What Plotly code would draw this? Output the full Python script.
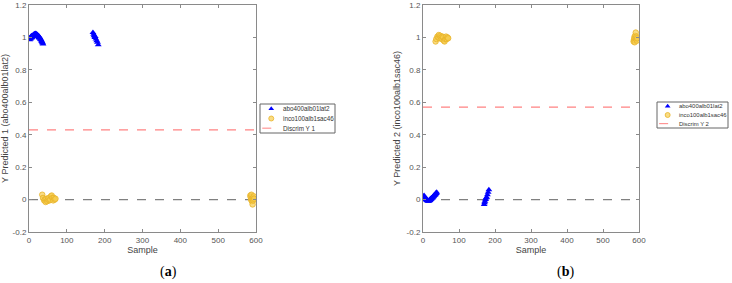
import plotly.graph_objects as go

# ---------------- data ----------------
x_range = [0, 600]
y_range = [-0.2, 1.2]
y_ticks = [-0.2, 0, 0.2, 0.4, 0.6, 0.8, 1, 1.2]
y_ticktext = ["-0.2", "0", "0.2", "0.4", "0.6", "0.8", "1", "1.2"]
x_ticks = [0, 100, 200, 300, 400, 500, 600]

# panel (a)
a_blue_x = [2, 3, 4, 5, 6, 7, 8, 9, 10, 11, 12, 13, 14, 15, 16, 17, 18, 19, 20, 21,
            22, 23, 24, 25, 26, 27, 28, 29, 30, 31, 32, 33, 34, 35, 36, 37,
            169, 171, 172, 174, 175, 177, 179, 181, 183]
a_blue_y = [0.985, 1.0, 0.99, 1.005, 0.995, 1.01, 1.0, 1.012, 1.005, 1.015, 1.01, 1.02,
            1.012, 1.022, 1.015, 1.025, 1.018, 1.022, 1.015, 1.02, 1.012, 1.015, 1.005,
            1.01, 1.0, 1.005, 0.995, 0.998, 0.99, 0.988, 0.985, 0.98, 0.975, 0.97, 0.965, 0.96,
            1.03, 1.02, 1.01, 1.0, 1.005, 0.99, 0.98, 0.97, 0.955]
a_yel_x = [35, 37, 40, 42, 44, 46, 48, 50, 52, 54, 56, 58, 60, 62, 64, 66, 68, 70,
           585, 586, 587, 588, 589, 590, 591, 592, 593, 594, 595]
a_yel_y = [0.03, 0.01, -0.005, 0.0, -0.015, 0.005, -0.01, 0.0, 0.01, -0.005, 0.0, 0.02,
           0.025, 0.01, -0.005, 0.01, 0.0, 0.005,
           0.025, 0.015, 0.0, 0.03, -0.01, 0.005, -0.03, 0.01, -0.005, 0.02, 0.005]
a_discrim = 0.43

# panel (b)
b_blue_x = [2, 3, 4, 5, 6, 7, 8, 9, 10, 11, 12, 13, 14, 15, 16, 17, 18, 19, 20, 21,
            22, 23, 24, 25, 26, 27, 28, 29, 30, 31, 32, 33, 34, 35, 36, 37, 38,
            170, 171, 172, 174, 175, 177, 179, 181, 183]
b_blue_y = [0.02, 0.025, 0.01, 0.015, 0.005, 0.01, 0.0, 0.005, -0.005, 0.0, -0.008, -0.005,
            -0.01, -0.005, -0.01, -0.005, -0.008, 0.0, -0.005, 0.005, 0.0, 0.01, 0.005, 0.012,
            0.01, 0.018, 0.015, 0.022, 0.02, 0.028, 0.025, 0.032, 0.03, 0.035, 0.04, 0.038, 0.045,
            -0.03, -0.02, -0.01, 0.0, 0.01, 0.015, 0.03, 0.045, 0.06]
b_yel_x = [35, 37, 40, 42, 44, 46, 48, 50, 52, 54, 56, 58, 60, 62, 64, 66, 68, 70,
           585, 586, 587, 588, 589, 590, 591, 592, 593, 594, 595]
b_yel_y = [0.975, 0.99, 1.005, 1.0, 1.015, 0.995, 1.01, 1.0, 0.99, 1.005, 1.0, 0.98,
           0.975, 0.99, 1.005, 0.99, 1.0, 0.995,
           0.975, 0.985, 1.0, 0.97, 1.01, 0.995, 1.03, 0.99, 1.005, 0.98, 0.995]
b_discrim = 0.57

name_blue = "abo400alb01lat2"
name_yel = "inco100alb1sac46"
names_discrim = ["Discrim Y 1", "Discrim Y 2"]
panel_labels = ["a", "b"]
y_titles = ["Y Predicted 1 (abo400alb01lat2)", "Y Predicted 2 (inco100alb1sac46)"]

# ---------------- styles ----------------
W, H = 732, 283
BLUE = "rgb(0,0,255)"
YEL_FILL = "rgba(247,205,80,0.7)"
YEL_EDGE = "rgb(232,180,40)"
RED = "rgb(255,130,130)"
GRAY = "rgb(128,128,128)"
FONT = "Liberation Sans, Arial, sans-serif"
SERIF = "Liberation Serif, Times New Roman, serif"

blue_marker = dict(symbol="triangle-up", size=6, color=BLUE, line=dict(width=0))
yel_marker = dict(symbol="circle", size=5.5, color=YEL_FILL, line=dict(color=YEL_EDGE, width=0.8))

fig = go.Figure()


def add_panel(xa, ya, bx, by, yx, yy, disc):
    fig.add_trace(go.Scatter(x=x_range, y=[0, 0], mode="lines", xaxis=xa, yaxis=ya,
                             line=dict(color=GRAY, dash="dash", width=1.2),
                             showlegend=False, hoverinfo="skip"))
    fig.add_trace(go.Scatter(x=x_range, y=[disc, disc], mode="lines", xaxis=xa, yaxis=ya,
                             showlegend=False, line=dict(color=RED, dash="dash", width=1.2)))
    fig.add_trace(go.Scatter(x=bx, y=by, mode="markers", xaxis=xa, yaxis=ya,
                             name=name_blue, showlegend=False, marker=blue_marker))
    fig.add_trace(go.Scatter(x=yx, y=yy, mode="markers", xaxis=xa, yaxis=ya,
                             name=name_yel, showlegend=False, marker=yel_marker))


add_panel("x", "y", a_blue_x, a_blue_y, a_yel_x, a_yel_y, a_discrim)
add_panel("x2", "y2", b_blue_x, b_blue_y, b_yel_x, b_yel_y, b_discrim)

# ---------------- hand-built compact legends (MATLAB style) ----------------
# box pixel geometry: (left, top, right, bottom), font size
legend_boxes = [(260, 104, 335, 133, 6.3), (657, 102, 728, 128, 5.9)]
shapes = []
annotations = []
for i, (l, t, r, b, fs) in enumerate(legend_boxes):
    xa, ya = f"x{i + 3}", f"y{i + 3}"
    fig.add_trace(go.Scatter(x=[0.15], y=[5 / 6], mode="markers", xaxis=xa, yaxis=ya,
                             marker=dict(blue_marker, size=5), showlegend=False, hoverinfo="skip"))
    fig.add_trace(go.Scatter(x=[0.15], y=[3 / 6], mode="markers", xaxis=xa, yaxis=ya,
                             marker=dict(yel_marker, size=5), showlegend=False, hoverinfo="skip"))
    fig.add_trace(go.Scatter(x=[0.03, 0.27], y=[1 / 6, 1 / 6], mode="lines", xaxis=xa, yaxis=ya,
                             line=dict(color=RED, dash="dash", width=1),
                             showlegend=False, hoverinfo="skip"))
    for txt, yy in [(name_blue, 5 / 6), (name_yel, 3 / 6), (names_discrim[i], 1 / 6)]:
        annotations.append(dict(text=txt, x=0.28, y=yy, xref=xa, yref=ya, xanchor="left",
                                yanchor="middle", showarrow=False,
                                font=dict(size=fs, color="#333", family=FONT)))
    shapes.append(dict(type="rect", xref=xa + " domain", yref=ya + " domain",
                       x0=0, x1=1, y0=0, y1=1, line=dict(color="#666", width=1),
                       fillcolor="rgba(0,0,0,0)", layer="below"))

axis_common = dict(showline=True, linecolor="#8a8a8a", linewidth=1, mirror="ticks",
                   ticks="inside", ticklen=3, tickcolor="#8a8a8a", showgrid=False,
                   zeroline=False, automargin=False,
                   tickfont=dict(size=8, color="#555", family=FONT))
hidden = dict(visible=False, range=[0, 1], fixedrange=True, automargin=False)

layout = dict(
    width=W, height=H, margin=dict(l=0, r=0, t=0, b=0),
    paper_bgcolor="white", plot_bgcolor="white", font=dict(family=FONT),
    showlegend=False,
)
x_domains = [[29 / W, 256 / W], [423 / W, 639 / W]]
for i in range(2):
    sx = "" if i == 0 else str(i + 1)
    layout[f"xaxis{sx}"] = dict(domain=x_domains[i], range=x_range, tickvals=x_ticks,
                                title=dict(text="Sample", font=dict(size=9, color="#444"), standoff=1),
                                anchor=f"y{sx}", **axis_common)
    layout[f"yaxis{sx}"] = dict(domain=[51 / H, 278 / H], range=y_range, tickvals=y_ticks,
                                ticktext=y_ticktext,
                                title=dict(text=y_titles[i], font=dict(size=9, color="#444"), standoff=4),
                                anchor=f"x{sx}", **axis_common)
for i, (l, t, r, b, fs) in enumerate(legend_boxes):
    layout[f"xaxis{i + 3}"] = dict(domain=[l / W, r / W], anchor=f"y{i + 3}", **hidden)
    layout[f"yaxis{i + 3}"] = dict(domain=[1 - b / H, 1 - t / H], anchor=f"x{i + 3}", **hidden)

label_x = [168, 565]
for i, lab in enumerate(panel_labels):
    annotations.append(dict(text=f"(<b>{lab}</b>)", x=label_x[i] / W, y=1 - 272 / H,
                            xref="paper", yref="paper", showarrow=False,
                            xanchor="center", yanchor="middle",
                            font=dict(family=SERIF, size=14, color="black")))
layout["annotations"] = annotations
layout["shapes"] = shapes

fig.update_layout(**layout)
fig.write_html("out.html", config={"displayModeBar": False})

# remove the browser's default page margin so the figure fills the window exactly
with open("out.html", "r", encoding="utf-8") as f:
    html = f.read()
html = html.replace("<head>", "<head><style>html,body{margin:0;padding:0;overflow:hidden;}</style>", 1)
with open("out.html", "w", encoding="utf-8") as f:
    f.write(html)
